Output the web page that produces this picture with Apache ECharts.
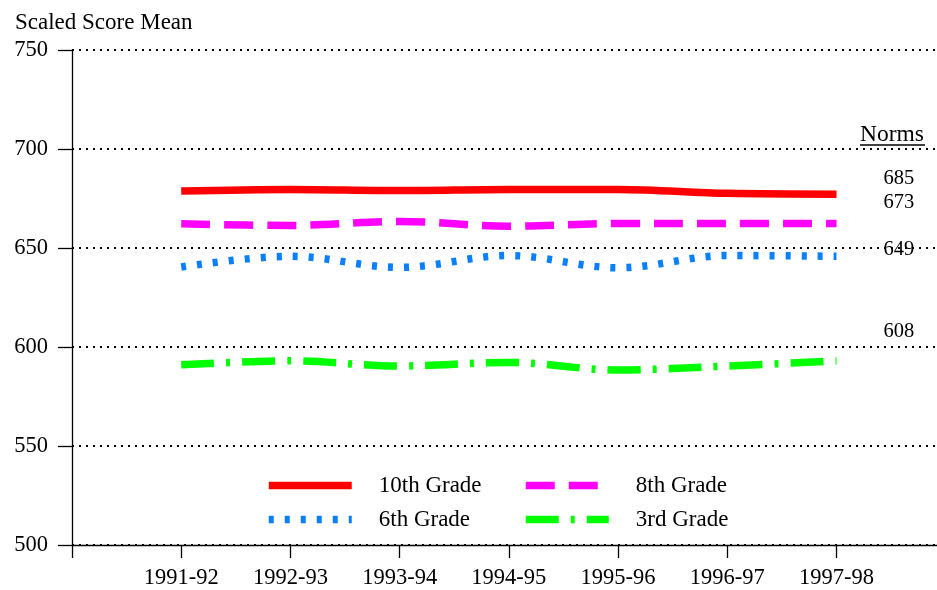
<!DOCTYPE html>
<html>
<head>
<meta charset="utf-8">
<script src="https://cdn.jsdelivr.net/npm/echarts@6/dist/echarts.min.js"></script>
<style>html,body{margin:0;padding:0;background:#fff;}#c{width:937px;height:590px;}</style>
</head>
<body>
<div id="c"></div>
<script>
const categories = ['1991-92','1992-93','1993-94','1994-95','1995-96','1996-97','1997-98'];
const grade10 = [678.8, 679.6, 679.0, 679.6, 679.6, 677.6, 677.2];
const grade8  = [662.2, 661.4, 663.4, 661.0, 662.4, 662.4, 662.4];
const grade6  = [640.4, 645.8, 640.2, 646.2, 640.0, 646.2, 645.8];
const grade3  = [591.0, 593.0, 590.4, 592.2, 588.4, 590.4, 593.0];
const norms = [685, 673, 649, 608];
const yTicks = [500, 550, 600, 650, 700, 750];

const FONT = 'Liberation Serif';
const chart = echarts.init(document.getElementById('c'));
const toPts = arr => categories.map((c, i) => [i + 1, arr[i]]);
const normX = 7.57;
const xMax = 7.92;

function lineSeries(name, data, color, type) {
  return {
    name: name, type: 'line', data: toPts(data), smooth: 0.35,
    symbol: 'none', silent: true,
    lineStyle: { color: color, width: 7.5, type: type, cap: 'butt' },
    itemStyle: { color: color }
  };
}

const legendCommon = {
  orient: 'vertical', itemWidth: 83, itemHeight: 8, itemGap: 11,
  textStyle: { fontFamily: FONT, fontSize: 23, color: '#000', lineHeight: 22, padding: [0, 0, 0, 22] },
  lineStyle: { width: 7.5 },
  itemStyle: { opacity: 0 },
  selectedMode: false
};

chart.setOption({
  animation: false,
  backgroundColor: '#fff',
  title: {
    text: 'Scaled Score Mean', left: 10, top: 6,
    textStyle: { fontFamily: FONT, fontSize: 23, fontWeight: 'normal', color: '#000' }
  },
  legend: [
    Object.assign({}, legendCommon, { left: 260, top: 469, data: ['10th Grade', '6th Grade'] }),
    Object.assign({}, legendCommon, { left: 517, top: 469, data: ['8th Grade', '3rd Grade'] })
  ],
  grid: { left: 72, top: 50, width: 865, height: 495, containLabel: false },
  xAxis: {
    type: 'value', min: 0, max: xMax,
    axisLine: { show: true, lineStyle: { color: '#000', width: 1.3 } },
    axisTick: { show: true, length: 13, lineStyle: { color: '#000', width: 1.3 },
      customValues: [0].concat(categories.map((c, i) => i + 1)) },
    splitLine: { show: false },
    axisLabel: {
      margin: 22, fontFamily: FONT, fontSize: 22.5, color: '#000',
      customValues: categories.map((c, i) => i + 1),
      formatter: v => categories[Math.round(v) - 1] || ''
    }
  },
  yAxis: {
    type: 'value', min: yTicks[0], max: yTicks[yTicks.length - 1], interval: 50,
    axisLine: { show: true, lineStyle: { color: '#000', width: 1.3 } },
    axisTick: { show: true, length: 14, lineStyle: { color: '#000', width: 1.3 } },
    splitLine: { show: true, lineStyle: { color: '#000', width: 2, type: [2, 5] } },
    axisLabel: { margin: 24, fontFamily: FONT, fontSize: 22.5, color: '#000' }
  },
  series: [
    lineSeries('10th Grade', grade10, '#ff0000', 'solid'),
    lineSeries('8th Grade', grade8, '#ff00ff', [29, 14]),
    lineSeries('6th Grade', grade6, '#0a80ff', [5, 11]),
    lineSeries('3rd Grade', grade3, '#00ff00', [33, 12, 4, 12]),
    {
      name: 'Norms', type: 'scatter', silent: true, symbolSize: 0,
      itemStyle: { opacity: 1 },
      data: norms.map(v => [normX, v]),
      label: {
        show: true, position: 'inside', formatter: p => String(p.value[1]),
        fontFamily: FONT, fontSize: 20.5, color: '#000', textBorderWidth: 0, opacity: 1
      }
    }
  ],
  graphic: [
    {
      type: 'text', left: 860, top: 123,
      style: { text: 'Norms', fontFamily: FONT, fontSize: 23.5, fill: '#000' }
    },
    {
      type: 'line', shape: { x1: 860, y1: 145, x2: 925, y2: 145 },
      style: { stroke: '#000', lineWidth: 1.3 }
    }
  ]
});
</script>
</body>
</html>
